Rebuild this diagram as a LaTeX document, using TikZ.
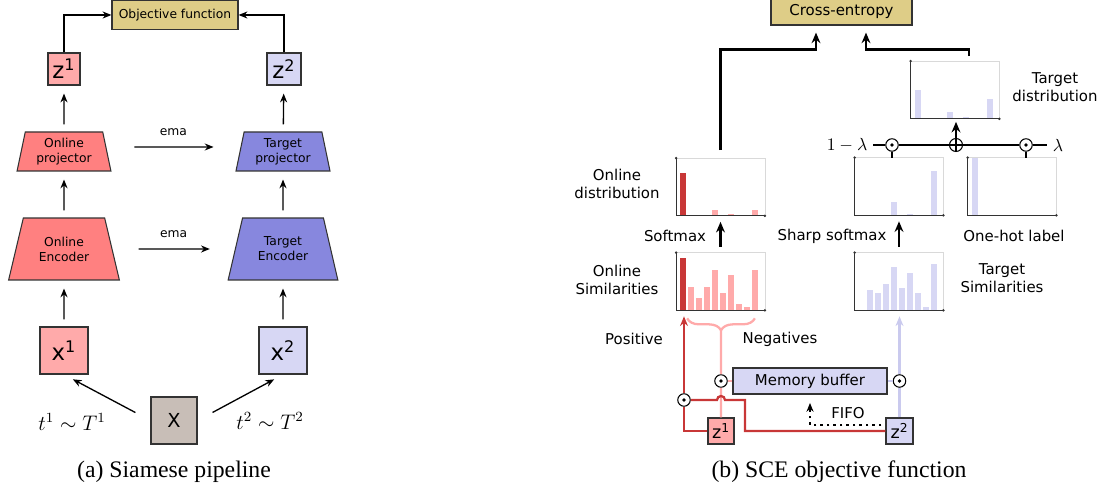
\documentclass[tikz,border=0pt]{standalone}
\usepackage{fontspec}
\setmainfont{Liberation Serif}
\newfontfamily\vera{DejaVu Sans}
\definecolor{d00}{rgb}{0.00, 0.00, 0.00}
\definecolor{daxis}{rgb}{0.20, 0.20, 0.20}
\definecolor{dgrid}{rgb}{0.85, 0.85, 0.85}
\definecolor{dsand}{HTML}{DECD87}
\definecolor{dpink}{HTML}{FFAAAA}
\definecolor{dlav}{HTML}{D7D7F4}
\definecolor{dlavd}{HTML}{CACAEE}
\definecolor{dred}{HTML}{C83737}
\definecolor{dsalmon}{HTML}{FF8080}
\definecolor{dblue}{HTML}{8787DE}
\definecolor{dstone}{HTML}{C8BEB7}
\usetikzlibrary{positioning}
\usetikzlibrary{shapes, arrows.meta}
\usetikzlibrary{calc, decorations.pathreplacing}
\newcommand{\pipefont}{\vera\fontsize{7}{8.5}\selectfont}
\newcommand{\labfont}{\vera\fontsize{8.5}{10.2}\selectfont}
\newcommand{\midfont}{\vera\fontsize{10}{12}\selectfont}
\newcommand{\bigfont}{\vera\fontsize{13}{15}\selectfont}
\newcommand{\mfont}{\fontsize{12}{14}\selectfont}
\newcommand{\capfont}{\fontsize{13.5}{16}\selectfont}
\tikzstyle{Line} = [draw, line width=.75pt, -{Stealth[length=5pt, width=4pt]}]
\tikzstyle{Fat} = [draw, line width=1.6pt, -{Stealth[length=6pt, width=5pt]}]
\tikzstyle{Tip} = [-{Stealth[length=5.5pt, width=4.5pt]}]
\tikzstyle{abox} = [draw=daxis, rectangle, line width=.7pt,
    text centered, inner sep=0pt]
\tikzstyle{traped} = [draw=daxis, trapezium, trapezium stretches=true,
    line width=.6pt, align=center, inner sep=0pt, font=\pipefont]
\tikzstyle{chart} = [rectangle, minimum width=1.76cm,
    minimum height=1.14cm, inner sep=0pt]
\tikzstyle{odot} = [draw, circle, fill=white, minimum size=.25cm,
    inner sep=0pt, line width=.6pt,
    path picture={\fill [black] (path picture bounding box.center)
        circle (1.1pt);}]
\tikzstyle{oplus} = [draw, circle, fill=white, minimum size=.26cm,
    inner sep=0pt, line width=.6pt,
    path picture={\draw (path picture bounding box.north) --
        (path picture bounding box.south) (path picture bounding box.west)
        -- (path picture bounding box.east);}]
\tikzstyle{lab} = [font=\labfont, align=center, inner sep=1pt]
\tikzstyle{Red} = [draw, dred, line width=1.3pt]
\tikzstyle{Pink} = [draw, dpink, line width=1.3pt]
\tikzstyle{Lav} = [draw, dlavd, line width=1.2pt]
% frame, bars and axes of one histogram node
\newcommand{\histo}[2]{
    \draw [dgrid, line width=.4pt] (#1.north west) -- (#1.north east)
        -- (#1.south east);
    \foreach \s/\h/\col in {#2}
        \fill [\col] ($(#1.south west)+(4+8*\s,0)$) rectangle +(6.3,\h);
    \draw [daxis, line width=.5pt] (#1.north west) -- (#1.south west)
        -- (#1.south east);
    \fill [daxis] (#1.north west) circle (.8pt) (#1.south east) circle (.8pt);}

\begin{document}
\begin{tikzpicture}[x=.02cm, y=.02cm]
     \useasboundingbox (0,0) rectangle (1112,-492);
     % ><>< =================== ><>< %
     % ><><  Siamese pipeline   ><>< %
     % ><>< =================== ><>< %
     \node [abox, fill=dsand, minimum width=2.52cm, minimum height=.58cm,
        font=\pipefont] (obj) at (175,-15) {Objective function};
     \node [abox, fill=dpink, minimum width=.64cm, minimum height=.64cm,
        font=\bigfont] (za) at (64,-69) {z\textsuperscript{1}};
     \node [abox, fill=dlav, minimum width=.68cm, minimum height=.64cm,
        font=\bigfont] (zt) at (284,-69) {z\textsuperscript{2}};
     \node [traped, fill=dsalmon, trapezium angle=77.7, minimum width=1.88cm,
        minimum height=.78cm] (projon) at (64,-151.5) {Online\\projector};
     \node [traped, fill=dblue, trapezium angle=77.7, minimum width=1.88cm,
        minimum height=.78cm] (projtg) at (283,-151.5) {Target\\projector};
     \node [traped, fill=dsalmon, trapezium angle=69.6, minimum width=2.22cm,
        minimum height=1.24cm] (encon) at (64,-249) {Online\\Encoder};
     \node [traped, fill=dblue, trapezium angle=69.6, minimum width=2.2cm,
        minimum height=1.24cm] (enctg) at (283,-249) {Target\\Encoder};
     \node [abox, fill=dpink, minimum width=.96cm, minimum height=.94cm,
        font=\bigfont] (xa) at (64,-350.5) {x\textsuperscript{1}};
     \node [abox, fill=dlav, minimum width=.96cm, minimum height=.94cm,
        font=\bigfont] (xt) at (283,-350.5) {x\textsuperscript{2}};
     \node [abox, fill=dstone, minimum width=.92cm, minimum height=.94cm,
        font=\vera\fontsize{11}{13}\selectfont] (xin) at (174,-420.5) {X};
     \node [font=\mfont] (ta) at (72,-422) {$t^1\sim T^1$};
     \node [font=\mfont] (tt) at (270,-421) {$t^2\sim T^2$};
     \path [Line] (za) |- (obj);
     \path [Line] (zt) |- (obj);
     \path [Line, shorten <=.14cm, shorten >=.16cm] (projon) -- (za);
     \path [Line, shorten <=.14cm, shorten >=.16cm] (projtg) -- (zt);
     \path [Line, shorten <=.14cm, shorten >=.16cm] (encon) -- (projon);
     \path [Line, shorten <=.14cm, shorten >=.16cm] (enctg) -- (projtg);
     \path [Line, shorten <=.14cm, shorten >=.16cm] (xa) -- (encon);
     \path [Line, shorten <=.14cm, shorten >=.16cm] (xt) -- (enctg);
     \path [Line, shorten <=.54cm, shorten >=.52cm]
        ([yshift=.09cm]projon.east) -- ([yshift=.09cm]projtg.west)
        node [midway, above=3pt, font=\pipefont] {ema};
     \path [Line, shorten <=.52cm, shorten >=.5cm]
        (encon.east) -- (enctg.west)
        node [midway, above=3pt, font=\pipefont] {ema};
     \path [Line, shorten <=.34cm, shorten >=.2cm] (xin.west) -- (xa.south);
     \path [Line, shorten <=.34cm, shorten >=.2cm] (xin.east) -- (xt.south);
     \node [font=\capfont, anchor=base] (capa) at (174,-478)
        {(a) Siamese pipeline};
     % ><>< =================== ><>< %
     % ><><  SCE objective fn   ><>< %
     % ><>< =================== ><>< %
     \node [abox, fill=dsand, minimum width=2.82cm, minimum height=.52cm,
        font=\labfont] (ce) at (841.5,-12) {Cross-entropy};
     \node [chart] (distmix) at (955,-90) {};
     \node [chart] (distsh) at (899,-186.5) {};
     \node [chart] (onehot) at (1012,-186.5) {};
     \node [chart] (diston) at (720.5,-187) {};
     \node [chart] (simon) at (720.5,-281.5) {};
     \node [chart] (simtg) at (899,-281.5) {};
     \histo{distmix}{0/29/dlav, 4/7/dlav, 6/2/dlav, 9/20/dlav}
     \histo{distsh}{4/13/dlav, 6/1.5/dlav, 9/44/dlav}
     \histo{onehot}{0/57/dlav}
     \histo{diston}{0/43/dred, 4/6/dpink, 6/2/dpink, 9/6/dpink}
     \histo{simon}{0/52/dred, 1/23/dpink, 2/12/dpink, 3/23/dpink,
        4/40/dpink, 5/17/dpink, 6/35/dpink, 7/6/dpink, 8/3/dpink, 9/40/dpink}
     \histo{simtg}{1/20/dlav, 2/17/dlav, 3/26/dlav, 4/43/dlav, 5/22/dlav,
        6/37/dlav, 7/17/dlav, 8/3/dlav, 9/46/dlav}
     \node [lab] (ldmix) at (1055,-87) {Target\\distribution};
     \node [lab] (ldon) at (617,-184) {Online\\distribution};
     \node [lab] (lsoft) at (675,-236) {Softmax};
     \node [lab] (lsharp) at (832,-236) {Sharp softmax};
     \node [lab] (lhot) at (1014,-236) {One-hot label};
     \node [lab] (lsimon) at (617,-280) {Online\\Similarities};
     \node [lab] (lsimtg) at (1002,-278) {Target\\Similarities};
     \node [lab] (lpos) at (634,-339) {Positive};
     \node [lab] (lneg) at (780,-339) {Negatives};
     \node [lab] (lfifo) at (848,-413) {FIFO};
     % mixing of sharp softmax and one-hot label
     \node (oml) at (847,-145) {$1-\lambda$};
     \node (lam) at (1058,-145) {$\lambda$};
     \node [odot] (mixa) at (892,-145) {};
     \node [oplus] (mixs) at (956,-145) {};
     \node [odot] (mixb) at (1026,-145) {};
     \path [draw, line width=1.6pt] (oml) -- (mixa) -- (mixs) -- (mixb)
        -- (lam);
     \path [draw, line width=1.6pt] (mixa) -- (mixa |- distsh.north);
     \path [draw, line width=1.6pt] (mixb) -- (mixb |- onehot.north);
     \path [Fat, shorten >=.06cm] (mixs) -- (mixs |- distmix.south);
     \path [Fat, shorten <=.12cm, shorten >=.12cm] (simon) -- (diston);
     \path [Fat, shorten <=.12cm, shorten >=.12cm] (simtg) -- (distsh);
     \path [Fat, shorten <=.16cm, shorten >=.14cm] (diston.north)
        |- ($(ce.south)+(-25.5,-24)$) -- ($(ce.south)+(-25.5,0)$);
     \path [Fat, shorten >=.14cm] ($(distmix.north)+(14,5)$)
        |- ($(ce.south)+(24.5,-24)$) -- ($(ce.south)+(24.5,0)$);
     % memory buffer and embeddings
     \node [abox, fill=dlav, line width=1.1pt, minimum width=3.08cm,
        minimum height=.52cm, font=\labfont] (membuf) at (810,-381)
        {Memory buffer};
     \node [abox, fill=dpink, minimum width=.52cm, minimum height=.52cm,
        font=\midfont] (zb1) at (721,-431) {z\textsuperscript{1}};
     \node [abox, fill=dlav, minimum width=.54cm, minimum height=.52cm,
        font=\midfont] (zb2) at (899.5,-431) {z\textsuperscript{2}};
     \node [odot] (dpos) at (684,-400) {};
     \node [odot] (dneg) at (721,-381) {};
     \node [odot] (dtgt) at (899.5,-381) {};
     \coordinate (negtip) at ($(simon.south)+(0.5,-20)$);
     \path [Pink, decorate, decoration={brace, mirror, amplitude=.24cm}]
        ($(simon.south west)+(11,-8)$) -- ($(simon.south east)+(-10,-8)$);
     \path [Pink] (zb1) -- (dneg) -- (negtip);
     \path [Pink] (dneg) -- (membuf);
     \path [Lav] (membuf) -- (dtgt);
     \path [Lav] (zb2) -- (dtgt);
     \path [Lav, Tip, shorten >=.12cm] (dtgt) -- (dtgt |- simtg.south);
     \path [Red] (zb1) -| (dpos);
     \path [Red, Tip, shorten >=.12cm] (dpos) -- (dpos |- simon.south);
     \path [Red] (dpos) -- ($(dpos -| zb1)+(-4,0)$)
        arc [start angle=180, end angle=0, radius=.08cm] -- ++(20,0)
        |- (zb2);
     \path [draw, line width=1.1pt, dash pattern=on .05cm off .08cm,
        -{Stealth[length=5pt, width=4pt]}, shorten <=.08cm, shorten >=.16cm]
        ([yshift=.12cm]zb2.west) -| (membuf.south);
     \node [font=\capfont, anchor=base] (capb) at (839,-478)
        {(b) SCE objective function};
  \end{tikzpicture}
\end{document}
